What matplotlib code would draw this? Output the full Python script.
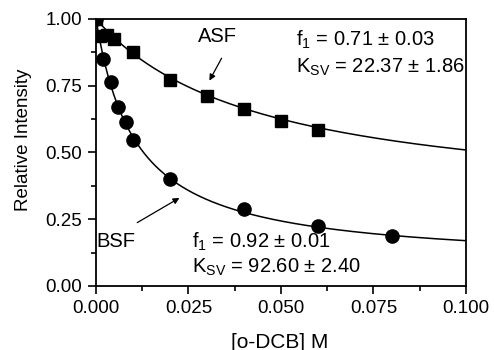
import numpy as np
import matplotlib
matplotlib.use("Agg")
import matplotlib.pyplot as plt
from matplotlib.ticker import MultipleLocator

plt.rcParams['font.family'] = ['Liberation Sans', 'DejaVu Sans']
plt.rcParams['mathtext.fontset'] = 'custom'
plt.rcParams['mathtext.rm'] = 'Liberation Sans'
plt.rcParams['mathtext.it'] = 'Liberation Sans'

# data
asf_x = [0.0, 0.001, 0.003, 0.005, 0.01, 0.02, 0.03, 0.04, 0.05, 0.06]
asf_y = [1.0, 0.935, 0.94, 0.925, 0.875, 0.77, 0.713, 0.664, 0.619, 0.584]
bsf_x = [0.0, 0.002, 0.004, 0.006, 0.008, 0.01, 0.02, 0.04, 0.06, 0.08]
bsf_y = [1.0, 0.85, 0.763, 0.669, 0.615, 0.547, 0.40, 0.287, 0.225, 0.188]

# fit parameters (modified Stern-Volmer)
asf_f1, asf_ksv = 0.71, 22.37
bsf_f1, bsf_ksv = 0.92, 92.60


def msv(q, f1, ksv):
    return f1 / (1 + ksv * q) + (1 - f1)


fig = plt.figure(figsize=(4.94, 3.5), dpi=100)
ax = fig.add_axes([0.1943, 0.1829, 0.749, 0.7629])

xx = np.linspace(0, 0.1, 400)
ax.plot(xx, msv(xx, asf_f1, asf_ksv), 'k-', lw=1.1)
ax.plot(xx, msv(xx, bsf_f1, bsf_ksv), 'k-', lw=1.1)
ax.plot(asf_x, asf_y, 'ks', ms=8, ls='none', zorder=3)
ax.plot(bsf_x, bsf_y, 'ko', ms=9.5, ls='none', zorder=3)

ax.set_xlim(0, 0.1)
ax.set_ylim(0, 1.0)
ax.xaxis.set_major_locator(MultipleLocator(0.025))
ax.xaxis.set_minor_locator(MultipleLocator(0.0125))
ax.yaxis.set_major_locator(MultipleLocator(0.25))
ax.yaxis.set_minor_locator(MultipleLocator(0.125))
ax.xaxis.set_major_formatter(lambda v, p: f"{v:.3f}")
ax.yaxis.set_major_formatter(lambda v, p: f"{v:.2f}")
ax.tick_params(which='major', direction='out', length=6, width=1.2, labelsize=13.5, pad=4)
ax.tick_params(which='minor', direction='out', length=3.5, width=1.2)
for s in ax.spines.values():
    s.set_linewidth(1.3)

fig.text(0.567, 1 - 342 / 350, "[o-DCB] M", fontsize=15, ha='center', va='center')
fig.text(24 / 494, 1 - 140 / 350, "Relative Intensity", fontsize=13.5,
         ha='center', va='center', rotation=90)

fs = 14.5
ax.text(0.0329, 0.935, "ASF", fontsize=fs, ha='center', va='center')
ax.annotate("", xy=(0.0303, 0.76), xytext=(0.0343, 0.862),
            arrowprops=dict(arrowstyle='-|>', color='k', lw=0.9, mutation_scale=9))
ax.text(0.0002, 0.165, "BSF", fontsize=fs, ha='left', va='center')
ax.annotate("", xy=(0.0232, 0.335), xytext=(0.0105, 0.232),
            arrowprops=dict(arrowstyle='-|>', color='k', lw=0.9, mutation_scale=9))

ax.text(0.0541, 0.921, r"f$_1$ = 0.71 ± 0.03", fontsize=fs, ha='left', va='center')
ax.text(0.0541, 0.818, r"K$_{SV}$ = 22.37 ± 1.86", fontsize=fs, ha='left', va='center')
ax.text(0.026, 0.165, r"f$_1$ = 0.92 ± 0.01", fontsize=fs, ha='left', va='center')
ax.text(0.026, 0.068, r"K$_{SV}$ = 92.60 ± 2.40", fontsize=fs, ha='left', va='center')

fig.savefig("out.png", dpi=100)
